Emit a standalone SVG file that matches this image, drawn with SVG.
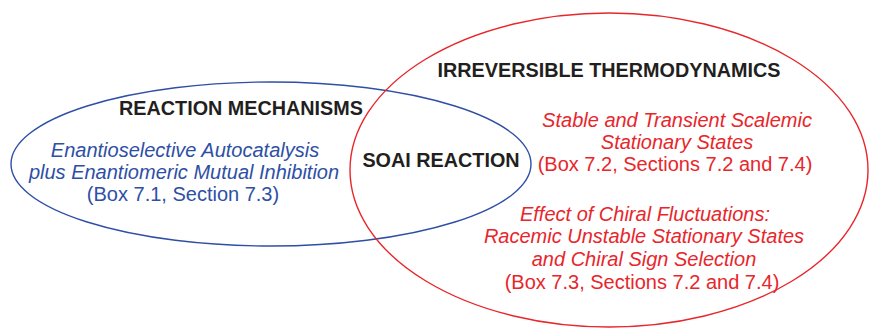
<svg xmlns="http://www.w3.org/2000/svg" width="870" height="328" viewBox="0 0 870 328">
  <style>
    .title { font-family: "Liberation Sans", Arial, sans-serif; font-weight: bold; font-size: 19.8px; fill: #231f20; text-anchor: middle; }
    .blue { font-family: "Liberation Sans", Arial, sans-serif; font-size: 20px; fill: #2e4fa5; text-anchor: middle; }
    .red { font-family: "Liberation Sans", Arial, sans-serif; font-size: 20px; fill: #e8262b; text-anchor: middle; }
    .it { font-style: italic; }
    .ring { fill: none; stroke-width: 1.4; }
  </style>

  <!-- Reaction mechanisms set -->
  <g id="reaction-mechanisms">
    <ellipse class="ring" cx="271" cy="164" rx="260" ry="82" stroke="#2e4fa5"/>
    <text class="title" x="241" y="115">REACTION MECHANISMS</text>
    <text class="blue it" x="185" y="157">Enantioselective Autocatalysis</text>
    <text class="blue it" x="184" y="179">plus Enantiomeric Mutual Inhibition</text>
    <text class="blue" x="183" y="201">(Box 7.1, Section 7.3)</text>
  </g>

  <!-- Irreversible thermodynamics set -->
  <g id="irreversible-thermodynamics">
    <ellipse class="ring" cx="609" cy="170" rx="259" ry="157" stroke="#e8262b"/>
    <text class="title" x="609" y="77">IRREVERSIBLE THERMODYNAMICS</text>
    <text class="red it" x="677" y="127">Stable and Transient Scalemic</text>
    <text class="red it" x="677" y="149">Stationary States</text>
    <text class="red" x="675" y="171">(Box 7.2, Sections 7.2 and 7.4)</text>
    <text class="red it" x="645" y="221">Effect of Chiral Fluctuations:</text>
    <text class="red it" x="644" y="243">Racemic Unstable Stationary States</text>
    <text class="red it" x="644" y="266">and Chiral Sign Selection</text>
    <text class="red" x="642" y="289">(Box 7.3, Sections 7.2 and 7.4)</text>
  </g>

  <!-- Overlap of the two sets -->
  <g id="soai-reaction">
    <text class="title" x="441" y="167">SOAI REACTION</text>
  </g>

  <g id="connectors"/>
</svg>
